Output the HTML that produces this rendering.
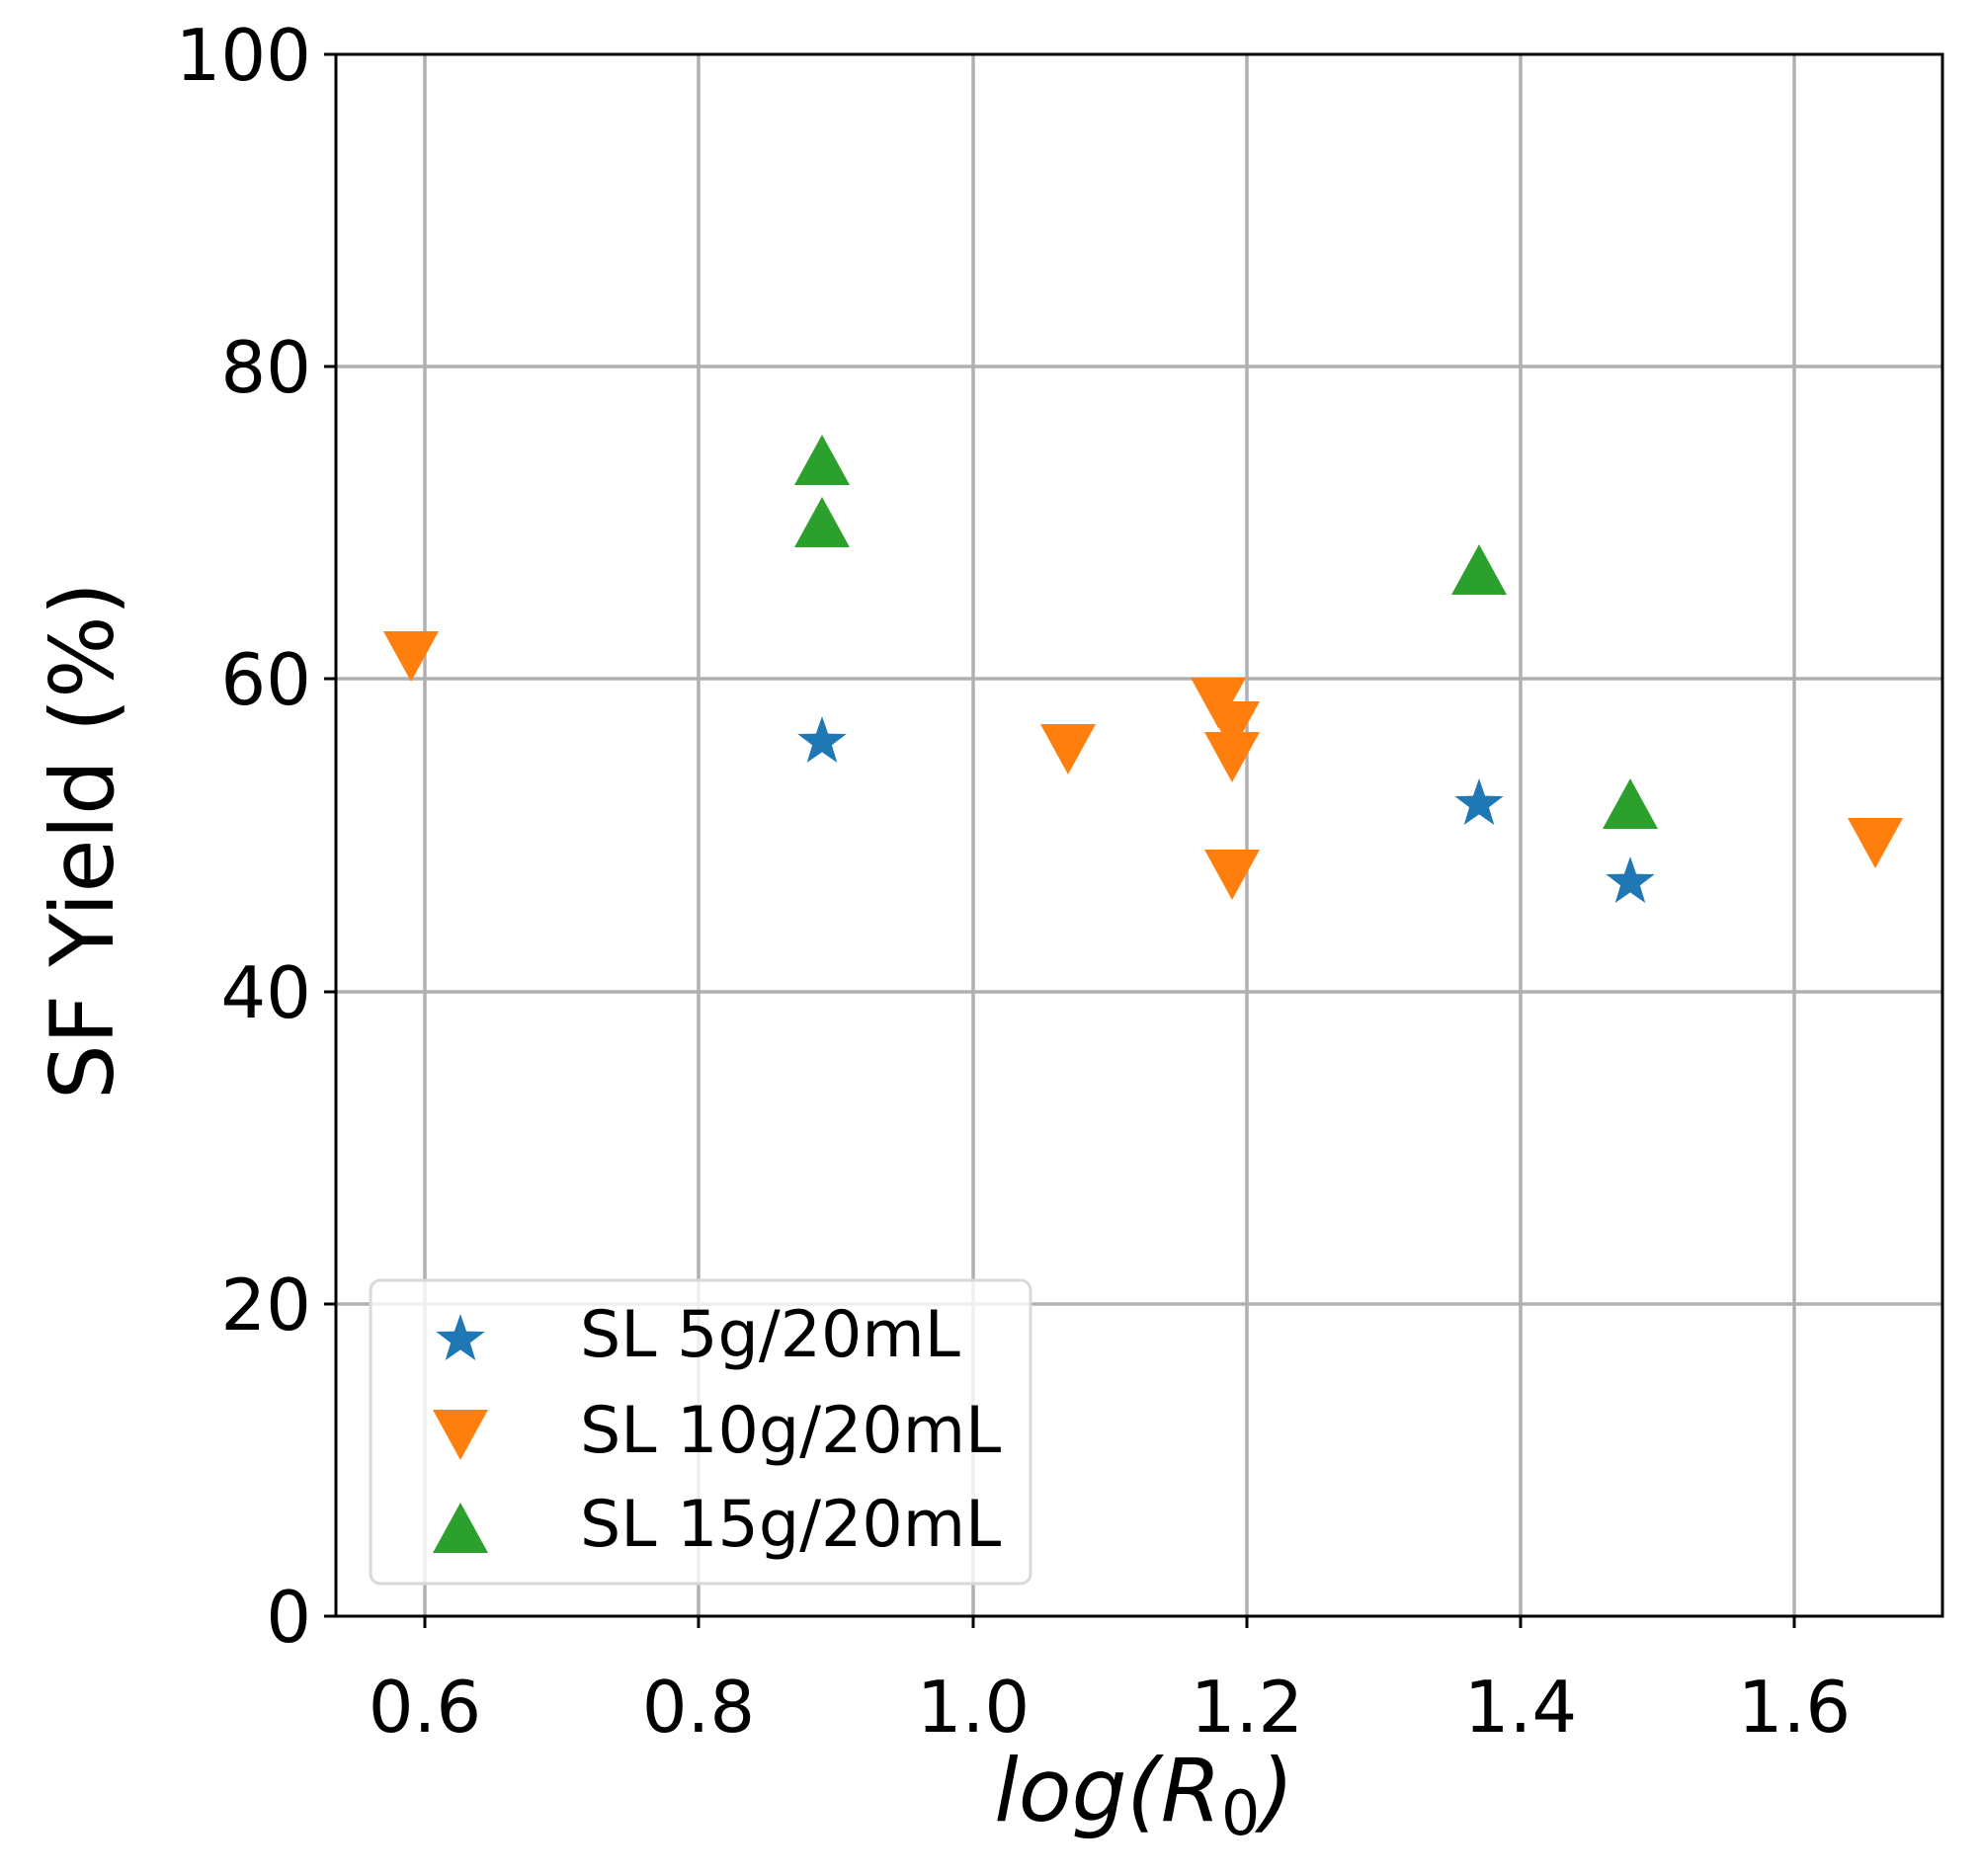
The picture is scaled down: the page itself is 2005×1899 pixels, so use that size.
<!DOCTYPE html>
<html><head><meta charset="utf-8"><style>html,body{margin:0;padding:0;background:#fff}svg{display:block}</style></head>
<body>
<svg width="2005" height="1899" viewBox="0 0 2005 1899" xmlns="http://www.w3.org/2000/svg" font-family="DejaVu Sans, Liberation Sans, sans-serif">
<defs>
<polygon id="dn" points="-28,-25 28,-25 0,26" />
<polygon id="up" points="-28,25 28,25 0,-26" />
<polygon id="st" points="0,-26 6.1,-8.4 24.7,-8 9.9,3.2 15.3,21 0,10.4 -15.3,21 -9.9,3.2 -24.7,-8 -6.1,-8.4" />
</defs>
<g stroke="#b0b0b0" stroke-width="3.5">
<line x1="430" y1="55" x2="430" y2="1636"/>
<line x1="707" y1="55" x2="707" y2="1636"/>
<line x1="985" y1="55" x2="985" y2="1636"/>
<line x1="1262" y1="55" x2="1262" y2="1636"/>
<line x1="1539" y1="55" x2="1539" y2="1636"/>
<line x1="1816" y1="55" x2="1816" y2="1636"/>
<line x1="340" y1="1320" x2="1966" y2="1320"/>
<line x1="340" y1="1004" x2="1966" y2="1004"/>
<line x1="340" y1="687" x2="1966" y2="687"/>
<line x1="340" y1="371" x2="1966" y2="371"/>
</g>
<g fill="#1f77b4">
<use href="#st" x="832" y="751"/>
<use href="#st" x="1497" y="814"/>
<use href="#st" x="1650" y="893"/>
</g>
<g fill="#ff7f0e">
<use href="#dn" x="416" y="664"/>
<use href="#dn" x="1081" y="758"/>
<use href="#dn" x="1233" y="711"/>
<use href="#dn" x="1247" y="735"/>
<use href="#dn" x="1247" y="766"/>
<use href="#dn" x="1247" y="885"/>
<use href="#dn" x="1898" y="853"/>
</g>
<g fill="#2ca02c">
<use href="#up" x="832" y="466"/>
<use href="#up" x="832" y="529"/>
<use href="#up" x="1497" y="577"/>
<use href="#up" x="1650" y="814"/>
</g>
<g stroke="#000" stroke-width="3" fill="none">
<rect x="340" y="55" width="1626" height="1581"/>
<line x1="430" y1="1636" x2="430" y2="1648"/>
<line x1="707" y1="1636" x2="707" y2="1648"/>
<line x1="985" y1="1636" x2="985" y2="1648"/>
<line x1="1262" y1="1636" x2="1262" y2="1648"/>
<line x1="1539" y1="1636" x2="1539" y2="1648"/>
<line x1="1816" y1="1636" x2="1816" y2="1648"/>
<line x1="328" y1="1636" x2="340" y2="1636"/>
<line x1="328" y1="1320" x2="340" y2="1320"/>
<line x1="328" y1="1004" x2="340" y2="1004"/>
<line x1="328" y1="687" x2="340" y2="687"/>
<line x1="328" y1="371" x2="340" y2="371"/>
<line x1="328" y1="55" x2="340" y2="55"/>
</g>
<g font-size="72" fill="#000" text-anchor="middle">
<text x="430" y="1753">0.6</text>
<text x="707" y="1753">0.8</text>
<text x="985" y="1753">1.0</text>
<text x="1262" y="1753">1.2</text>
<text x="1539" y="1753">1.4</text>
<text x="1816" y="1753">1.6</text>
</g>
<g font-size="72" fill="#000" text-anchor="end">
<text x="315" y="1662">0</text>
<text x="315" y="1346">20</text>
<text x="315" y="1030">40</text>
<text x="315" y="713">60</text>
<text x="315" y="397">80</text>
<text x="315" y="81">100</text>
</g>
<text x="1158" y="1843" font-size="88" text-anchor="middle" font-style="italic">log(R<tspan font-size="62" dy="14" font-style="normal">0</tspan><tspan dy="-14">)</tspan></text>
<text transform="translate(114,851) rotate(-90)" font-size="88" text-anchor="middle">SF Yield (%)</text>
<rect x="375" y="1296" width="668" height="307" rx="10" fill="#fff" fill-opacity="0.8" stroke="#d9d9d9" stroke-width="3"/>
<use href="#st" x="466" y="1356" fill="#1f77b4"/>
<use href="#dn" x="466" y="1452" fill="#ff7f0e"/>
<use href="#up" x="466" y="1547" fill="#2ca02c"/>
<g font-size="65" fill="#000">
<text x="587" y="1373">SL 5g/20mL</text>
<text x="587" y="1470">SL 10g/20mL</text>
<text x="587" y="1565">SL 15g/20mL</text>
</g>
</svg>
</body></html>
